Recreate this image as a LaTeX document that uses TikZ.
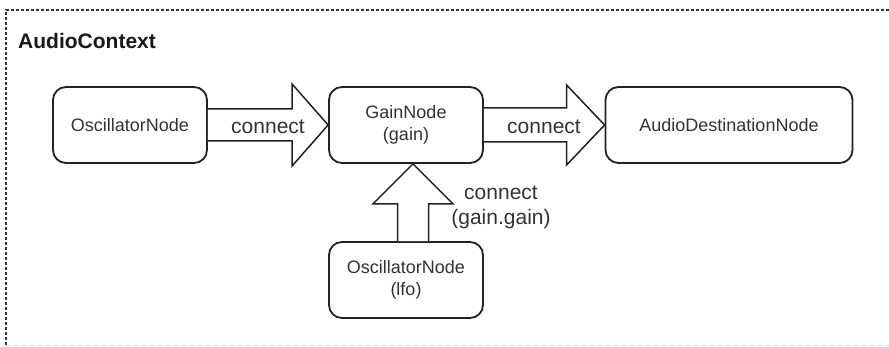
\documentclass[tikz,border=0pt]{standalone}
\usepackage{fontspec}
\setmainfont{Liberation Sans}
\usetikzlibrary{calc}
\definecolor{boxline}{HTML}{222222}
\definecolor{txt}{HTML}{333333}
\begin{document}
\begin{tikzpicture}[x=1pt,y=-1pt,
  audionode/.style={draw=boxline,line width=1.8pt,rounded corners=13pt,fill=white,
    inner sep=0pt,align=center,text=txt,font=\fontsize{18}{22}\selectfont},
  fatarrow/.style={draw=boxline,line width=1.5pt,line join=miter,fill=white},
  lbl/.style={text=txt,font=\fontsize{21}{25}\selectfont,align=center,inner sep=0pt}]
\useasboundingbox (0,0) rectangle (889,347);
% frame
\draw[black!80,line width=2.8pt,dash pattern=on 2.6pt off 2.4pt] (6,345) -- (6,10) -- (889,10);
\draw[black!15,line width=1pt,dash pattern=on 4pt off 4pt] (6,346) -- (889,346);
\node[anchor=west,inner sep=0pt,font=\fontsize{21}{25}\selectfont\bfseries,text=black!90] (title) at (18,41) {AudioContext};
% nodes
\node[audionode,minimum width=154pt,minimum height=76pt] (osc) at (130,125) {OscillatorNode};
\node[audionode,minimum width=154pt,minimum height=76pt] (gain) at (406,125) {GainNode\\(gain)};
\node[audionode,minimum width=247pt,minimum height=76pt] (dest) at (729,125) {AudioDestinationNode};
\node[audionode,minimum width=154pt,minimum height=76pt] (lfo) at (406,280) {OscillatorNode\\(lfo)};
% arrows
\draw[fatarrow] ($(osc.east)+(0,-16)$) -- ($(gain.west)+(-36,-16)$) -- ($(gain.west)+(-36,-41)$)
  -- (gain.west) -- ($(gain.west)+(-36,41)$) -- ($(gain.west)+(-36,16)$) -- ($(osc.east)+(0,16)$);
\draw[fatarrow] ($(gain.east)+(0,-17)$) -- ($(dest.west)+(-38,-17)$) -- ($(dest.west)+(-38,-40)$)
  -- (dest.west) -- ($(dest.west)+(-38,40)$) -- ($(dest.west)+(-38,17)$) -- ($(gain.east)+(0,17)$);
\draw[fatarrow] ($(lfo.north)+(-8.5,0)$) -- ($(gain.south)+(-8.5,40)$) -- ($(gain.south)+(-33,40)$)
  -- ($(gain.south)+(7,0)$) -- ($(gain.south)+(47,40)$) -- ($(gain.south)+(22.5,40)$) -- ($(lfo.north)+(22.5,0)$);
% labels
\node[lbl] (l1) at (268,127) {connect};
\node[lbl] (l2) at (544,127) {connect};
\node[lbl] (l3) at (501,207) {connect\\(gain.gain)};
\end{tikzpicture}
\end{document}
